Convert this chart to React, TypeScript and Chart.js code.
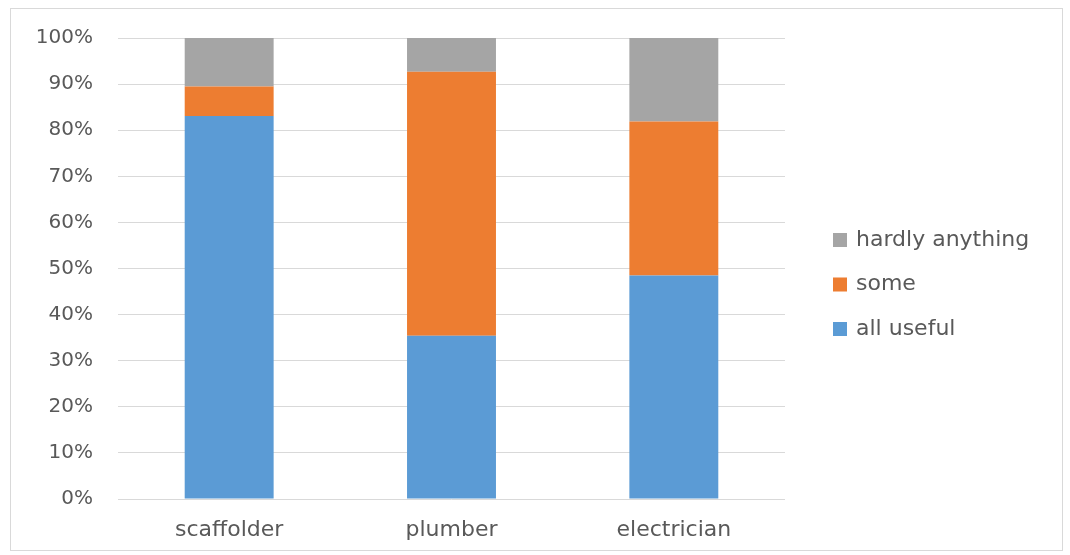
import React, { useEffect, useRef } from "react";
import { Chart, registerables } from "chart.js";

Chart.register(...registerables);

const categories = ["scaffolder", "plumber", "electrician"];
const allUseful = [83.1, 35.4, 48.5];
const some = [6.4, 57.3, 33.4];
const hardlyAnything = [10.5, 7.3, 18.1];
const seriesLabels = ["all useful", "some", "hardly anything"];
const seriesColors = ["#5B9BD5", "#ED7D31", "#A5A5A5"];
const yTickStep = 10;
const yMax = 100;

const FONT = "'DejaVu Sans', sans-serif";
const TEXT = "#595959";

const framePlugin = {
  id: "frame",
  beforeDraw(chart: any) {
    const ctx = chart.ctx;
    ctx.save();
    ctx.fillStyle = "#ffffff";
    ctx.fillRect(0, 0, chart.width, chart.height);
    ctx.strokeStyle = "#d9d9d9";
    ctx.lineWidth = 1;
    ctx.strokeRect(10.5, 8.5, 1052, 542);
    ctx.restore();
  },
};

const legendPlugin = {
  id: "customLegend",
  afterDraw(chart: any) {
    const ctx = chart.ctx;
    const ds = chart.data.datasets;
    ctx.save();
    ctx.font = `22px ${FONT}`;
    ctx.textBaseline = "middle";
    ctx.textAlign = "left";
    const order = ds.map((_: any, i: number) => i).reverse();
    order.forEach((idx: number, k: number) => {
      const y = 240 + k * 44.5;
      ctx.fillStyle = ds[idx].backgroundColor;
      ctx.fillRect(833, y - 7, 14, 14);
      ctx.fillStyle = TEXT;
      ctx.fillText(ds[idx].label, 856, y);
    });
    ctx.restore();
  },
};

export default function App() {
  const ref = useRef<HTMLCanvasElement | null>(null);

  useEffect(() => {
    if (!ref.current) return;
    const values = [allUseful, some, hardlyAnything];
    const chart = new Chart(ref.current, {
      type: "bar",
      data: {
        labels: categories,
        datasets: values.map((v, i) => ({
          label: seriesLabels[i],
          data: v,
          backgroundColor: seriesColors[i],
          borderWidth: 0,
          barPercentage: 0.4,
          categoryPercentage: 1,
        })),
      },
      options: {
        responsive: false,
        animation: false,
        layout: { padding: { left: 10, top: 38, right: 285, bottom: 0 } },
        plugins: {
          legend: { display: false },
          tooltip: { enabled: false },
        },
        scales: {
          x: {
            stacked: true,
            grid: { display: false, drawTicks: false },
            border: { display: false },
            ticks: { color: TEXT, font: { family: FONT, size: 22 }, padding: 18 },
            afterFit: (s: any) => {
              s.height = 56;
            },
          },
          y: {
            stacked: true,
            min: 0,
            max: yMax,
            grid: { color: "#d9d9d9", lineWidth: 1, drawTicks: false },
            border: { display: false },
            ticks: {
              stepSize: yTickStep,
              color: TEXT,
              font: { family: FONT, size: 20 },
              padding: 25,
              callback: (v: any) => `${v}%`,
            },
            afterFit: (s: any) => {
              s.width = 108;
            },
          },
        },
      },
      plugins: [framePlugin, legendPlugin],
    });
    return () => chart.destroy();
  }, []);

  return (
    <div style={{ position: "absolute", left: 0, top: 0, width: 1070, height: 555 }}>
      <canvas ref={ref} width={1070} height={555} style={{ display: "block" }} />
    </div>
  );
}
